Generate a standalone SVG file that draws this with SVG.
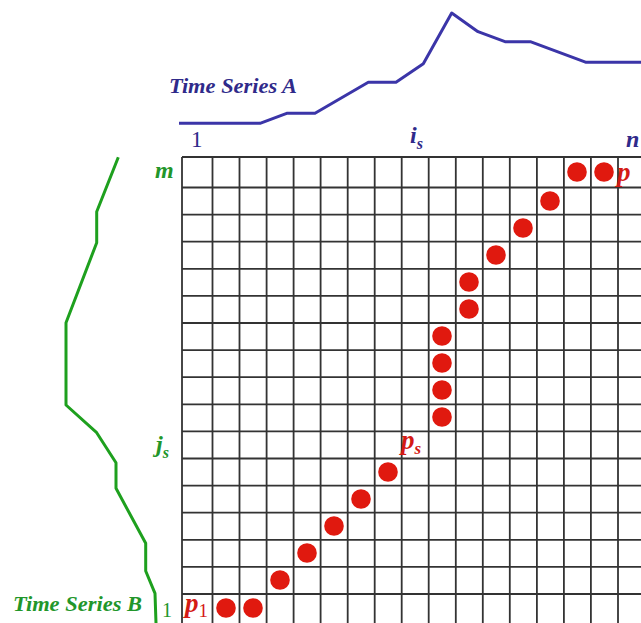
<svg xmlns="http://www.w3.org/2000/svg" width="641" height="623" viewBox="0 0 641 623">
<defs>
<style>
.grid line{stroke:#333;stroke-width:1.8}
.border{stroke:#1a1a1a;stroke-width:2.8}
.dot{fill:#e0190f}
.serA{fill:none;stroke:#3b35a8;stroke-width:3;stroke-linejoin:round}
.serB{fill:none;stroke:#1ea01e;stroke-width:3;stroke-linejoin:round}
text{font-family:'Liberation Serif','Times New Roman',Times,serif}
.blue{fill:#2f2a8a}
.green{fill:#22962a}
.red{fill:#d41a14}
.bi{font-style:italic;font-weight:bold}
.title{font-style:italic;font-weight:bold;font-size:21px}
</style>
</defs>
<rect width="641" height="623" fill="#fff"/>
<g id="grid" class="grid">
<line x1="212.5" y1="157" x2="212.5" y2="623"/>
<line x1="239.5" y1="157" x2="239.5" y2="623"/>
<line x1="266.6" y1="157" x2="266.6" y2="623"/>
<line x1="293.6" y1="157" x2="293.6" y2="623"/>
<line x1="320.6" y1="157" x2="320.6" y2="623"/>
<line x1="347.7" y1="157" x2="347.7" y2="623"/>
<line x1="374.7" y1="157" x2="374.7" y2="623"/>
<line x1="401.7" y1="157" x2="401.7" y2="623"/>
<line x1="428.7" y1="157" x2="428.7" y2="623"/>
<line x1="455.8" y1="157" x2="455.8" y2="623"/>
<line x1="482.8" y1="157" x2="482.8" y2="623"/>
<line x1="509.8" y1="157" x2="509.8" y2="623"/>
<line x1="536.9" y1="157" x2="536.9" y2="623"/>
<line x1="563.9" y1="157" x2="563.9" y2="623"/>
<line x1="590.9" y1="157" x2="590.9" y2="623"/>
<line x1="618" y1="157" x2="618" y2="623"/>
<line x1="182" y1="187.5" x2="641" y2="187.5"/>
<line x1="182" y1="214.6" x2="641" y2="214.6"/>
<line x1="182" y1="241.7" x2="641" y2="241.7"/>
<line x1="182" y1="268.8" x2="641" y2="268.8"/>
<line x1="182" y1="295.9" x2="641" y2="295.9"/>
<line x1="182" y1="323" x2="641" y2="323"/>
<line x1="182" y1="350.1" x2="641" y2="350.1"/>
<line x1="182" y1="377.2" x2="641" y2="377.2"/>
<line x1="182" y1="404.3" x2="641" y2="404.3"/>
<line x1="182" y1="431.4" x2="641" y2="431.4"/>
<line x1="182" y1="458.5" x2="641" y2="458.5"/>
<line x1="182" y1="485.6" x2="641" y2="485.6"/>
<line x1="182" y1="512.7" x2="641" y2="512.7"/>
<line x1="182" y1="539.8" x2="641" y2="539.8"/>
<line x1="182" y1="566.9" x2="641" y2="566.9"/>
<line x1="182" y1="594" x2="641" y2="594"/>
<line class="border" x1="182" y1="157" x2="641" y2="157"/>
<line class="border" x1="182" y1="157" x2="182" y2="623"/>
</g>
<g id="series-a">
<polyline class="serA" points="179,123.3 260,123.3 286.7,113.3 315,113.3 368.3,82.3 396,82.3 423.3,63.8 451.7,13 478,31.7 505,41.7 530.3,41.7 585.5,62.2 641,62.2"/>
<text class="blue title" x="169" y="93" textLength="128" lengthAdjust="spacingAndGlyphs">Time Series A</text>
<text class="blue" x="191" y="147" font-size="23">1</text>
<text class="blue bi" x="410" y="143" font-size="24">i<tspan font-size="16" dy="6">s</tspan></text>
<text class="blue bi" x="626" y="147" font-size="24">n</text>
</g>
<g id="series-b">
<polyline class="serB" points="118.3,157.3 96.7,211.7 96.7,242.7 66,322.7 66,405 96.7,432.7 116,462.7 116,488.3 145.7,543.3 145.7,571 155,593.3 156,623"/>
<text class="green title" x="13" y="611" textLength="129" lengthAdjust="spacingAndGlyphs">Time Series B</text>
<text class="green bi" x="155" y="178" font-size="24">m</text>
<text class="green bi" x="156" y="452" font-size="24">j<tspan font-size="16" dy="6">s</tspan></text>
<text class="green" x="162" y="617" font-size="20">1</text>
</g>
<g id="path">
<circle class="dot" cx="226" cy="608" r="9.8"/>
<circle class="dot" cx="253" cy="608" r="9.8"/>
<circle class="dot" cx="280" cy="580" r="9.8"/>
<circle class="dot" cx="307" cy="553" r="9.8"/>
<circle class="dot" cx="334" cy="526" r="9.8"/>
<circle class="dot" cx="361" cy="499" r="9.8"/>
<circle class="dot" cx="388" cy="472" r="9.8"/>
<circle class="dot" cx="442" cy="417" r="9.8"/>
<circle class="dot" cx="442" cy="390" r="9.8"/>
<circle class="dot" cx="442" cy="363" r="9.8"/>
<circle class="dot" cx="442" cy="336" r="9.8"/>
<circle class="dot" cx="469" cy="309" r="9.8"/>
<circle class="dot" cx="469" cy="282" r="9.8"/>
<circle class="dot" cx="496" cy="255" r="9.8"/>
<circle class="dot" cx="523" cy="228" r="9.8"/>
<circle class="dot" cx="550" cy="201" r="9.8"/>
<circle class="dot" cx="577" cy="172" r="9.8"/>
<circle class="dot" cx="604" cy="172" r="9.8"/>
<text class="red bi" x="185" y="612" font-size="27">p<tspan font-style="normal" font-weight="normal" font-size="19" dy="5">1</tspan></text>
<text class="red bi" x="401" y="449" font-size="27">p<tspan font-size="17" dy="5">s</tspan></text>
<text class="red bi" x="617" y="181" font-size="27">p</text>
</g>
</svg>
